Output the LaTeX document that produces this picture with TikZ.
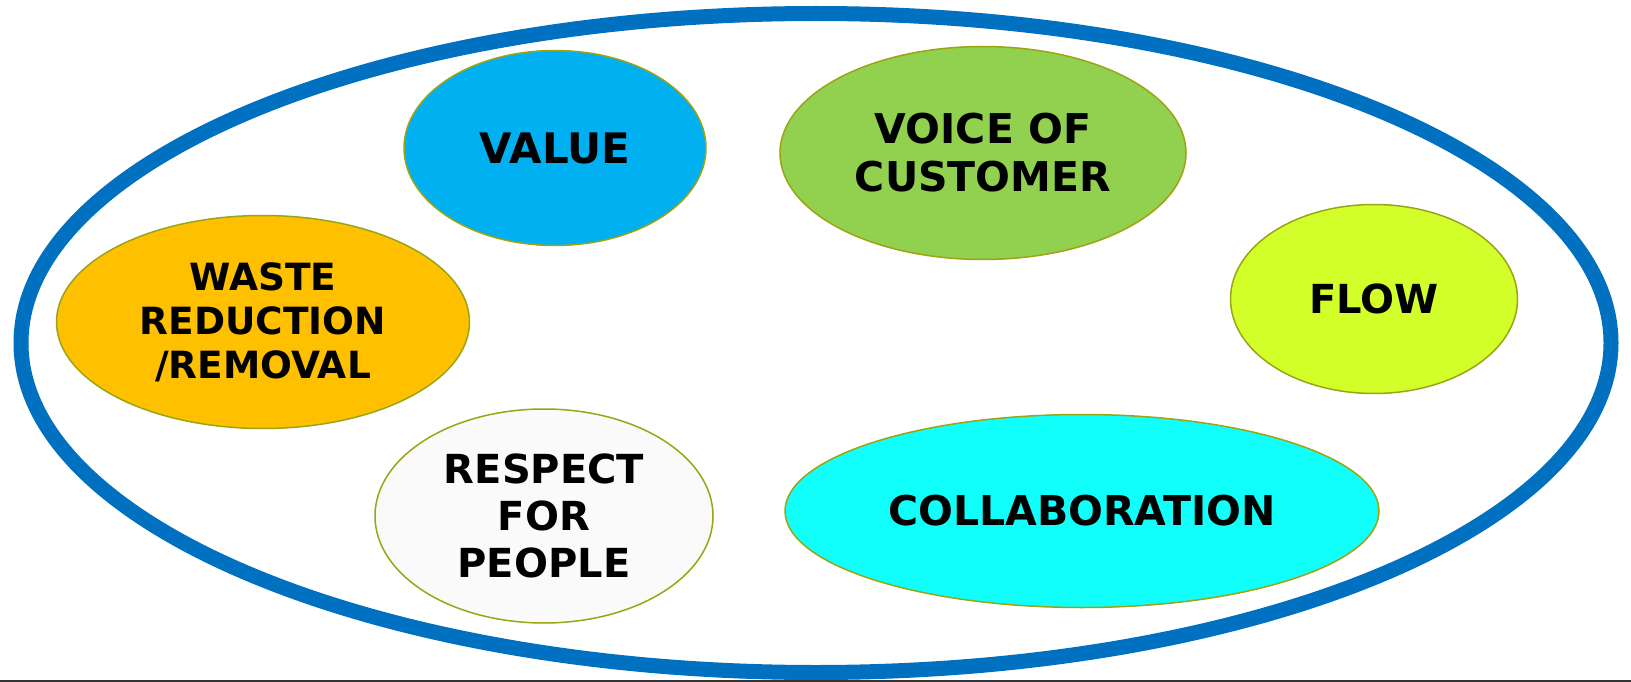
\documentclass[tikz,border=0pt]{standalone}
\usepackage{fontspec}
\setmainfont{DejaVu Sans}
\usetikzlibrary{shapes.geometric}
\definecolor{outerblue}{RGB}{0,112,192}
\definecolor{rimolive}{RGB}{155,165,20}
\definecolor{valuecol}{RGB}{0,176,240}
\definecolor{voccol}{RGB}{146,208,80}
\definecolor{flowcol}{RGB}{210,255,42}
\definecolor{wastecol}{RGB}{255,192,0}
\definecolor{respcol}{RGB}{250,250,250}
\definecolor{collabcol}{RGB}{16,255,250}
\tikzset{
  bubble/.style={ellipse, draw=rimolive, line width=1.5pt, inner sep=0pt, align=center,
    font=\fontsize{40pt}{46pt}\selectfont\bfseries, text=black},
}
\begin{document}
\begin{tikzpicture}[x=1pt,y=-1pt]
\useasboundingbox (0,0) rectangle (1631,682);
\fill[white] (0,0) rectangle (1631,682);
\draw[line width=1.4pt, black!80] (0,681) -- (1631,681);
\node[ellipse, draw=outerblue, line width=15pt, minimum width=1590pt, minimum height=659pt, inner sep=0pt] (outer) at (816,343) {};
\node[bubble, fill=valuecol, minimum width=302pt, minimum height=195pt, font=\fontsize{42pt}{46pt}\selectfont\bfseries] (value) at (555,148) {VALUE};
\node[bubble, fill=voccol, minimum width=406pt, minimum height=213pt, font=\fontsize{41pt}{48pt}\selectfont\bfseries] (voc) at (983,153) {VOICE OF\\CUSTOMER};
\node[bubble, fill=flowcol, minimum width=287pt, minimum height=189pt] (flow) at (1374,299) {FLOW};
\node[bubble, fill=wastecol, minimum width=413pt, minimum height=213pt, font=\fontsize{37.5pt}{44pt}\selectfont\bfseries] (waste) at (263,322) {WASTE\\REDUCTION\\/REMOVAL};
\node[bubble, fill=respcol, minimum width=338pt, minimum height=214pt, font=\fontsize{40pt}{47pt}\selectfont\bfseries] (respect) at (544,516) {RESPECT\\FOR\\PEOPLE};
\node[bubble, fill=collabcol, minimum width=594pt, minimum height=193pt, font=\fontsize{41pt}{46pt}\selectfont\bfseries] (collab) at (1082,511) {COLLABORATION};
\end{tikzpicture}
\end{document}
